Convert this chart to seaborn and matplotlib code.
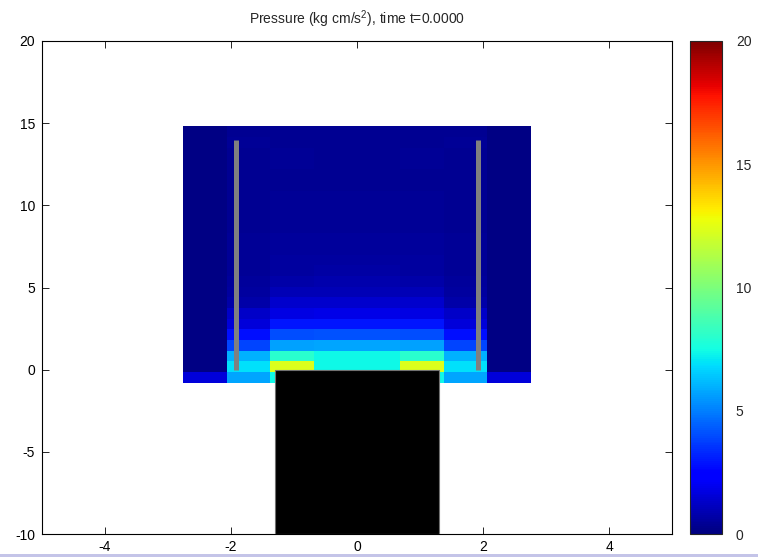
import numpy as np
import matplotlib
matplotlib.use("Agg")
import matplotlib.pyplot as plt
from matplotlib.patches import Rectangle
import seaborn as sns

# ---- data ----
x_edges = [-2.76, -2.07, -1.38, -0.69, 0.69, 1.38, 2.07, 2.76]
y_bottom = -0.8
row_height = 0.65
n_rows = 24

# pressure per column, bottom row first (left half; right half mirrors)
col_outer = [1.6, 0.13, 0.13, 0.13, 0.13, 0.13, 0.13, 0.13, 0.13, 0.13, 0.13, 0.13,
             0.13, 0.13, 0.13, 0.13, 0.13, 0.13, 0.13, 0.13, 0.13, 0.13, 0.13, 0.13]
col_mid = [5.74, 6.9, 5.95, 3.9, 2.8, 1.6, 1.25, 0.75, 0.6, 0.5, 0.45, 0.42,
           0.4, 0.4, 0.38, 0.38, 0.36, 0.36, 0.35, 0.35, 0.35, 0.35, 0.45, 0.35]
col_inner = [7.4, 12.3, 8.0, 5.63, 4.06, 2.9, 1.76, 1.34, 0.95, 0.75, 0.62, 0.55,
             0.5, 0.47, 0.45, 0.42, 0.4, 0.4, 0.38, 0.38, 0.45, 0.45, 0.36, 0.35]
col_center = [7.5, 7.4, 7.4, 5.74, 4.1, 2.9, 1.85, 1.4, 1.0, 0.8, 0.65, 0.57,
              0.52, 0.48, 0.45, 0.43, 0.41, 0.4, 0.39, 0.38, 0.38, 0.37, 0.36, 0.35]

wall_x = [-1.92, 1.92]
wall_y = [0.0, 14.0]
block_x = [-1.3, 1.3]
block_y = [-10.0, 0.0]

x_ticks = [-4, -2, 0, 2, 4]
y_ticks = [-10, -5, 0, 5, 10, 15, 20]
cbar_ticks = [0, 5, 10, 15, 20]
vmin, vmax = 0, 20
title = "Pressure (kg cm/s$^2$), time t=0.0000"

# ---- figure ----
sns.set_style("ticks")
plt.rcParams["font.family"] = ["Liberation Sans", "DejaVu Sans"]
plt.rcParams["mathtext.fontset"] = "custom"
plt.rcParams["mathtext.rm"] = "Liberation Sans"
plt.rcParams["mathtext.it"] = "Liberation Sans"
plt.rcParams["axes.unicode_minus"] = False

fig = plt.figure(figsize=(7.58, 5.57), dpi=100)
fig.patch.set_facecolor("white")

ax = fig.add_axes([42 / 758, 23 / 557, 630 / 758, 493 / 557])
cax = fig.add_axes([690 / 758, 23 / 557, 32 / 758, 493 / 557])

columns = [col_outer, col_mid, col_inner, col_center, col_inner, col_mid, col_outer]
Z = np.array(columns).T
y_edges = y_bottom + row_height * np.arange(n_rows + 1)
mesh = ax.pcolormesh(x_edges, y_edges, Z, cmap="jet", vmin=vmin, vmax=vmax,
                     shading="flat", edgecolors="none", zorder=1)

ax.add_patch(Rectangle((block_x[0], block_y[0]), block_x[1] - block_x[0],
                       block_y[1] - block_y[0], facecolor="black",
                       edgecolor="#707070", linewidth=0.8, zorder=3))
for wx in wall_x:
    ax.plot([wx, wx], wall_y, color="#808080", lw=3.6, solid_capstyle="butt", zorder=4)

ax.set_xlim(-5, 5)
ax.set_ylim(-10, 20)
ax.set_xticks(x_ticks)
ax.set_yticks(y_ticks)
ax.tick_params(direction="in", length=5, width=0.6, top=True, right=True,
               labelsize=10, colors="black", pad=5)
ax.tick_params(axis="x", pad=4)
for s in ax.spines.values():
    s.set_linewidth(0.8)
    s.set_color("black")
ax.set_title(title, fontsize=10, pad=12)

cb = fig.colorbar(mesh, cax=cax, ticks=cbar_ticks)
cb.outline.set_linewidth(0.8)
cax.tick_params(direction="in", length=5, width=0.6, left=True, right=True,
                labelsize=10, pad=10)

fig.patches.append(Rectangle((0, 0), 1, 3 / 557, transform=fig.transFigure,
                             facecolor="#c4c4e8", edgecolor="none", zorder=10))

fig.savefig("out.png", dpi=100)
